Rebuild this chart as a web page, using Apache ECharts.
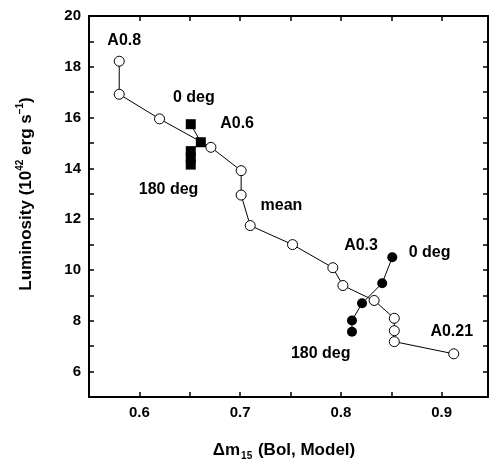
<!DOCTYPE html>
<html>
<head>
<meta charset="utf-8">
<script src="https://cdn.jsdelivr.net/npm/echarts@6/dist/echarts.min.js"></script>
<style>
  html, body { margin: 0; padding: 0; background: #fff; }
  #chart { width: 489px; height: 464px; }
</style>
</head>
<body>
<div id="chart"></div>
<script>
// mean model (open circles)
var meanDm  = [0.580, 0.580, 0.620, 0.671, 0.701, 0.701, 0.710, 0.752, 0.792, 0.802, 0.833, 0.853, 0.853, 0.853, 0.912];
var meanLum = [18.22, 16.92, 15.95, 14.83, 13.91, 12.95, 11.75, 11.00, 10.09, 9.39, 8.80, 8.10, 7.61, 7.18, 6.70];
// A0.6 viewing angles (filled squares)
var a06Dm  = [0.651, 0.661, 0.651, 0.651, 0.651];
var a06Lum = [15.74, 15.03, 14.68, 14.42, 14.15];
// A0.3 viewing angles (filled circles)
var a03Dm  = [0.851, 0.841, 0.821, 0.811, 0.811];
var a03Lum = [10.50, 9.48, 8.69, 8.01, 7.57];
// annotations
var noteText = ['A0.8', '0 deg', 'A0.6', '180 deg', 'mean', 'A0.3', '0 deg', 'A0.21', '180 deg'];
var noteDm   = [0.585, 0.654, 0.697, 0.629, 0.741, 0.820, 0.888, 0.910, 0.780];
var noteLum  = [19.02, 16.78, 15.75, 13.15, 12.52, 10.97, 10.67, 7.58, 6.70];
// labelled ticks
var xLabels = ['0.6', '0.7', '0.8', '0.9'];
var yLabels = ['6', '8', '10', '12', '14', '16', '18', '20'];

function zip(a, b) {
    return a.map(function (v, i) { return [v, b[i]]; });
}

var font = 'Liberation Sans, Arial, sans-serif';
var xRange = [0.55, 0.946];
var yRange = [5, 20];

function xText(v) {
    var s = v.toFixed(1);
    return (Math.abs(v - parseFloat(s)) < 1e-6 && xLabels.indexOf(s) >= 0) ? s : '';
}
function yText(v) {
    var s = String(Math.round(v));
    return (Math.abs(v - Math.round(v)) < 1e-6 && yLabels.indexOf(s) >= 0) ? s : '';
}
function blank() { return ''; }

// one axis per side: frame line, inward ticks counted from min
function frameAxis(kind, pos, labelled) {
    return {
        type: 'value',
        position: pos,
        min: kind == 'x' ? xRange[0] : yRange[0],
        max: kind == 'x' ? xRange[1] : yRange[1],
        interval: kind == 'x' ? 0.05 : 1,
        splitLine: { show: false },
        axisLine: { show: true, onZero: false, lineStyle: { color: '#000', width: 2 } },
        axisTick: { show: true, inside: true, length: 5, lineStyle: { color: '#000', width: 1.5 } },
        axisLabel: {
            show: true,
            inside: !labelled,
            margin: 8,
            color: '#000',
            fontFamily: font,
            fontWeight: 'bold',
            fontSize: 15,
            formatter: labelled ? (kind == 'x' ? xText : yText) : blank
        }
    };
}

// axis titles as text elements (rich text for sub/superscripts)
var titleRich = {
    t: { fontFamily: font, fontWeight: 'bold', fontSize: 17, fill: '#000', color: '#000', lineHeight: 22, verticalAlign: 'middle' },
    s: { fontFamily: font, fontWeight: 'bold', fontSize: 10, fill: '#000', color: '#000', lineHeight: 22, verticalAlign: 'bottom', padding: [0, 1, 0, 1] },
    p: { fontFamily: font, fontWeight: 'bold', fontSize: 10, fill: '#000', color: '#000', lineHeight: 22, verticalAlign: 'top' }
};

var option = {
    backgroundColor: '#FFFFFF',
    animation: false,
    grid: { left: 89, right: 1, top: 16, bottom: 67, outerBoundsMode: 'none' },
    xAxis: [frameAxis('x', 'bottom', true), frameAxis('x', 'top', false)],
    yAxis: [frameAxis('y', 'left', true), frameAxis('y', 'right', false)],
    graphic: [{
        type: 'text',
        x: 284,
        y: 450,
        style: {
            text: '{t|Δm}{s|15}{t| (Bol, Model)}',
            rich: titleRich,
            align: 'center',
            verticalAlign: 'middle'
        }
    }, {
        type: 'text',
        x: 26,
        y: 194,
        rotation: Math.PI / 2,
        style: {
            text: '{t|Luminosity (10}{p|42}{t| erg s}{p|−1}{t|)}',
            rich: titleRich,
            align: 'center',
            verticalAlign: 'middle'
        }
    }],
    series: [{
        name: 'A0.6',
        type: 'line',
        data: zip(a06Dm, a06Lum),
        symbol: 'rect',
        symbolSize: 10,
        lineStyle: { color: '#000', width: 1 },
        itemStyle: { color: '#000', borderWidth: 0 },
        z: 2
    }, {
        name: 'A0.3',
        type: 'line',
        data: zip(a03Dm, a03Lum),
        symbol: 'circle',
        symbolSize: 10,
        lineStyle: { color: '#000', width: 1 },
        itemStyle: { color: '#000', borderWidth: 0 },
        z: 3
    }, {
        name: 'mean',
        type: 'line',
        data: zip(meanDm, meanLum),
        symbol: 'circle',
        symbolSize: 10,
        lineStyle: { color: '#000', width: 1 },
        itemStyle: { color: '#fff', borderColor: '#000', borderWidth: 1 },
        z: 4
    }, {
        name: 'notes',
        type: 'scatter',
        data: noteText.map(function (t, i) { return { value: [noteDm[i], noteLum[i]], name: t }; }),
        symbolSize: 0,
        itemStyle: { opacity: 1 },
        label: {
            show: true,
            position: 'inside',
            formatter: function (p) { return p.name; },
            color: '#000',
            opacity: 1,
            fontFamily: font,
            fontWeight: 'bold',
            fontSize: 16
        },
        z: 5
    }]
};

var myChart = echarts.init(document.getElementById('chart'));
myChart.setOption(option);
</script>
</body>
</html>
